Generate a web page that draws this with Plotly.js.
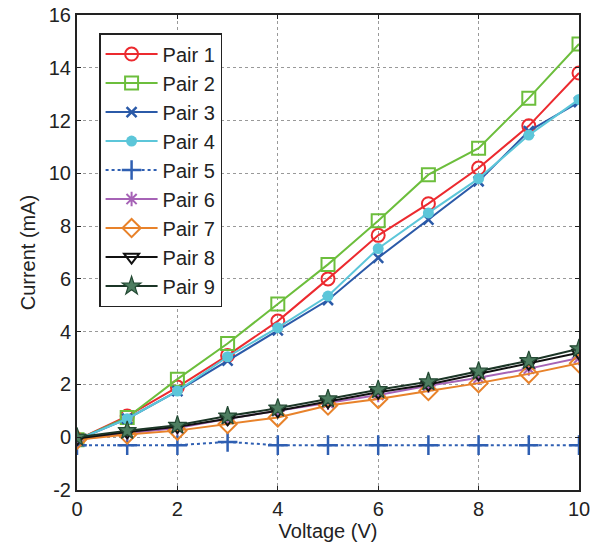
<!DOCTYPE html>
<html>
<head>
<meta charset="utf-8">
<script src="https://cdn.plot.ly/plotly-3.0.1.min.js"></script>
<style>html,body{margin:0;padding:0;background:#fff;}#chart{width:601px;height:546px;}</style>
</head>
<body>
<div id="chart"></div>
<script>
const voltage = [0,1,2,3,4,5,6,7,8,9,10];
const pair1 = [-0.1,0.8,1.9,3.1,4.4,6.0,7.65,8.85,10.2,11.8,13.8];
const pair2 = [-0.1,0.75,2.2,3.55,5.05,6.55,8.2,9.95,10.95,12.85,14.9];
const pair3 = [-0.1,0.7,1.75,2.9,4.05,5.2,6.8,8.25,9.7,11.6,12.7];
const pair4 = [-0.1,0.7,1.75,3.05,4.15,5.35,7.15,8.5,9.8,11.45,12.8];
const pair5 = [-0.3,-0.3,-0.3,-0.18,-0.3,-0.3,-0.3,-0.3,-0.3,-0.3,-0.3];
const pair6 = [-0.1,0.15,0.35,0.7,1.0,1.3,1.6,1.95,2.25,2.6,3.0];
const pair7 = [-0.1,0.1,0.25,0.5,0.75,1.2,1.45,1.75,2.05,2.4,2.8];
const pair8 = [-0.05,0.2,0.4,0.7,1.0,1.35,1.7,2.0,2.4,2.8,3.2];
const pair9 = [0,0.25,0.45,0.8,1.1,1.45,1.8,2.1,2.5,2.9,3.35];
const names = ["Pair 1","Pair 2","Pair 3","Pair 4","Pair 5","Pair 6","Pair 7","Pair 8","Pair 9"];
const series = [pair1,pair2,pair3,pair4,pair5,pair6,pair7,pair8,pair9];
const xTicks = [0,2,4,6,8,10];
const yTicks = [-2,0,2,4,6,8,10,12,14,16];

const styles = [
  {color:'#ec2a2f', symbol:'circle-open', size:13, dash:'solid', mline:'#ec2a2f', fill:'#ec2a2f', mw:2},
  {color:'#6cbe3c', symbol:'square-open', size:13, dash:'solid', mline:'#6cbe3c', fill:'#6cbe3c', mw:2},
  {color:'#2b5aa8', symbol:'x-thin-open', size:10, dash:'solid', mline:'#2b5aa8', fill:'#2b5aa8', mw:2.5},
  {color:'#5cc6d9', symbol:'circle', size:11, dash:'solid', mline:'#5cc6d9', fill:'#5cc6d9', mw:0},
  {color:'#2f5fb2', symbol:'cross-thin-open', size:14, dash:'dot', mline:'#2f5fb2', fill:'#2f5fb2', mw:2.5},
  {color:'#a663b6', symbol:'asterisk-open', size:12, dash:'solid', mline:'#a663b6', fill:'#a663b6', mw:2},
  {color:'#e8822a', symbol:'diamond-open', size:14, dash:'solid', mline:'#e8822a', fill:'#e8822a', mw:2},
  {color:'#111111', symbol:'triangle-down-open', size:13, dash:'solid', mline:'#111111', fill:'#111111', mw:2},
  {color:'#1b3526', symbol:'star', size:14, dash:'solid', mline:'#244a34', fill:'#4d7d60', mw:1.2}
];

const traces = series.map((ys,i) => ({
  x: voltage, y: ys, name: names[i], type:'scatter', mode:'lines+markers',
  line:{color:styles[i].color, width:2, dash:styles[i].dash},
  marker:{symbol:styles[i].symbol, size:styles[i].size, color:styles[i].fill,
          line:{color:styles[i].mline, width:styles[i].mw}}
}));

const layout = {
  width:601, height:546,
  margin:{l:77, r:22, t:15, b:56, pad:0},
  paper_bgcolor:'#ffffff', plot_bgcolor:'#ffffff',
  font:{family:'Liberation Sans, Arial, sans-serif', size:20, color:'#222'},
  showlegend:true,
  legend:{x:0.044, y:0.962, xanchor:'left', yanchor:'top', bgcolor:'#ffffff',
          bordercolor:'#222', borderwidth:1.5, itemwidth:52, font:{size:20, color:'#222'}},
  xaxis:{range:[0,10], tickvals:xTicks, ticktext:xTicks.map(String), showgrid:true,
         gridcolor:'#999', griddash:'dot', gridwidth:1, zeroline:false,
         showline:true, linecolor:'#222', linewidth:2, mirror:'ticks',
         ticks:'inside', ticklen:4, tickcolor:'#222',
         title:{text:'Voltage (V)', font:{size:20}, standoff:4}, automargin:false},
  yaxis:{range:[-2,16], tickvals:yTicks, ticktext:yTicks.map(String), showgrid:true,
         gridcolor:'#999', griddash:'dot', gridwidth:1, zeroline:false,
         showline:true, linecolor:'#222', linewidth:2, mirror:'ticks',
         ticks:'inside', ticklen:4, tickcolor:'#222',
         title:{text:'Current (mA)', font:{size:20}, standoff:8}, automargin:false}
};
Plotly.newPlot('chart', traces, layout, {displayModeBar:false, staticPlot:true});
</script>
</body>
</html>
